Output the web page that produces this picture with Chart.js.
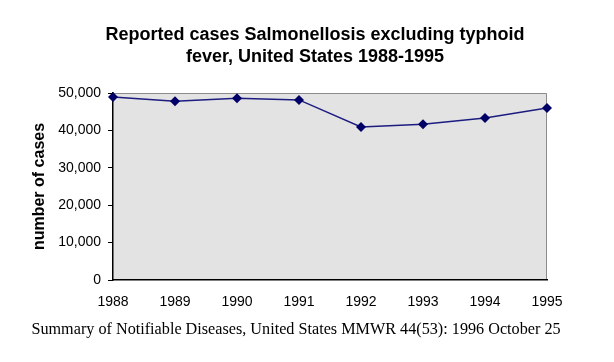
<!DOCTYPE html>
<html><head><meta charset="utf-8">
<script src="https://cdn.jsdelivr.net/npm/chart.js@4/dist/chart.umd.min.js"></script>
<style>html,body{margin:0;padding:0;background:#fff}#wrap{width:614px;height:362px}</style>
</head><body><div id="wrap"><canvas id="c" width="614" height="362"></canvas></div>
<script>
const years = ['1988','1989','1990','1991','1992','1993','1994','1995'];
const cases = [48948, 47812, 48603, 48154, 40912, 41641, 43323, 45970];
const yTicks = [0, 10000, 20000, 30000, 40000, 50000];
const titleLines = ['Reported cases Salmonellosis excluding typhoid', 'fever, United States 1988-1995'];
const yTitle = 'number of cases';
const footer = 'Summary of Notifiable Diseases, United States MMWR 44(53): 1996 October 25';

const bgPlugin = {
  id: 'bg',
  beforeDraw(chart) {
    const {ctx, chartArea: a} = chart;
    ctx.save();
    ctx.fillStyle = '#e3e3e3';
    ctx.fillRect(a.left, a.top, a.right - a.left, a.bottom - a.top);
    ctx.strokeStyle = '#8c8c8c';
    ctx.lineWidth = 1;
    ctx.beginPath();
    ctx.moveTo(a.left, a.top + 0.5);
    ctx.lineTo(a.right - 0.5, a.top + 0.5);
    ctx.lineTo(a.right - 0.5, a.bottom);
    ctx.stroke();
    ctx.restore();
  },
  afterDraw(chart) {
    const ctx = chart.ctx;
    ctx.save();
    ctx.fillStyle = '#000';
    ctx.textAlign = 'center';
    ctx.textBaseline = 'middle';
    ctx.font = 'bold 18px "Liberation Sans", Arial';
    ctx.fillText(titleLines[0], 315, 35);
    ctx.fillText(titleLines[1], 315, 57);
    ctx.font = '16.2px "Liberation Serif", "Times New Roman"';
    ctx.fillText(footer, 296, 330);
    ctx.restore();
  }
};

new Chart(document.getElementById('c'), {
  type: 'line',
  data: {
    labels: years,
    datasets: [{
      data: cases,
      borderColor: '#1c1c80',
      borderWidth: 1.5,
      pointStyle: 'rectRot',
      pointRadius: 5,
      pointBackgroundColor: '#000066',
      pointBorderColor: '#000066',
      pointBorderWidth: 0,
      tension: 0,
      clip: false
    }]
  },
  options: {
    responsive: false,
    animation: false,
    layout: { padding: { left: 30, right: 67, top: 93, bottom: 52 } },
    plugins: {
      legend: { display: false },
      tooltip: { enabled: false },
      title: { display: false }
    },
    scales: {
      x: {
        type: 'category',
        offset: false,
        afterFit(scale) { scale.height = 30; },
        grid: { display: false, drawOnChartArea: false, drawTicks: true, tickLength: 5, tickColor: '#000' },
        border: { display: true, color: '#000', width: 1.5 },
        ticks: { color: '#000', font: { family: 'Liberation Sans, Arial', size: 14 }, padding: 9, maxRotation: 0, autoSkip: false }
      },
      y: {
        min: 0, max: 50000,
        afterBuildTicks(scale) { scale.ticks = yTicks.map(v => ({ value: v })); },
        afterFit(scale) { scale.width = 83; },
        grid: { display: true, drawOnChartArea: false, drawTicks: true, tickLength: 5, tickColor: '#000' },
        border: { display: true, color: '#000', width: 1.5 },
        ticks: { color: '#000', font: { family: 'Liberation Sans, Arial', size: 14 }, padding: 7,
          callback: v => v.toLocaleString('en-US') },
        title: { display: true, text: yTitle, color: '#000', font: { family: 'Liberation Sans, Arial', size: 16, weight: 'bold' }, padding: { top: 0, bottom: 4 } }
      }
    }
  },
  plugins: [bgPlugin]
});
</script></body></html>
